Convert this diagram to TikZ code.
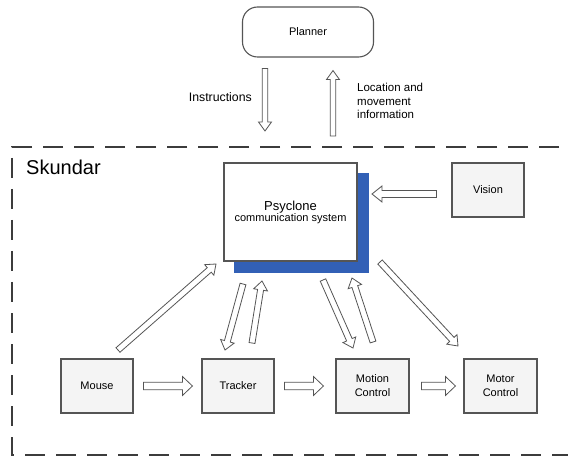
\documentclass[tikz,border=0pt]{standalone}
\usepackage{fontspec}
\setmainfont{Liberation Sans}
\usetikzlibrary{calc,backgrounds}
\definecolor{edgegray}{RGB}{85,85,85}
\definecolor{boxfill}{RGB}{244,244,244}
\definecolor{shadowblue}{RGB}{50,96,182}
\definecolor{dashgray}{RGB}{60,60,60}
\tikzset{
  module/.style={draw=edgegray, line width=1.1pt, fill=boxfill, minimum width=72pt, minimum height=54pt,
    inner sep=0pt, align=center, font=\fontsize{11}{14}\selectfont},
  harrow/.style={draw=edgegray, fill=white, line width=0.8pt, line join=miter},
  lbl/.style={font=\fontsize{11.5}{13.5}\selectfont, inner sep=0pt},
}
\newcommand{\hollowarrow}[5]{%
  \coordinate (hh) at ($(#2)!#5!(#1)$);
  \draw[harrow] ($(#1)!#3!90:(#2)$) -- ($(hh)!#3!90:(#2)$) -- ($(hh)!#4!90:(#2)$) -- (#2)
    -- ($(hh)!#4!-90:(#2)$) -- ($(hh)!#3!-90:(#2)$) -- ($(#1)!#3!-90:(#2)$) -- cycle;}
\begin{document}
\begin{tikzpicture}[x=1pt,y=-1pt]
\useasboundingbox (0,0) rectangle (568,457);
% system boundary
\draw[dashgray, line width=1.4pt, dash pattern=on 20pt off 11pt] (590,147) -- (12,147) -- (12,455) -- (590,455);
\node[font=\fontsize{20}{24}\selectfont, anchor=base west, inner sep=0pt] (skundar) at (26,175) {Skundar};
% planner
\node[draw=edgegray, line width=1.1pt, fill=white, rounded corners=15pt, minimum width=131pt, minimum height=50pt,
  font=\fontsize{11}{14}\selectfont] (planner) at (308,32) {Planner};
% psyclone
\node[draw=edgegray, line width=1.1pt, fill=white, minimum width=133pt, minimum height=98pt, align=center,
  inner sep=0pt] (psy) at (290.5,212) {{\fontsize{13}{15}\selectfont Psyclone}\\[-1pt]{\fontsize{11}{13}\selectfont communication system}};
\begin{scope}[on background layer]
  \fill[white] (0,0) rectangle (568,457);
  \fill[shadowblue] ([shift={(11,11)}]psy.south west) rectangle ([shift={(11,11)}]psy.north east);
\end{scope}
% modules
\node[module] (vision) at (488,190) {Vision};
\node[module] (mouse) at (97,386) {Mouse};
\node[module] (tracker) at (238,386) {Tracker};
\node[module, minimum width=73pt] (motion) at (372.5,386) {Motion\\Control};
\node[module, minimum width=73pt] (motor) at (500.5,386) {Motor\\Control};
% labels
\node[lbl, anchor=east, font=\fontsize{12.3}{14}\selectfont] (instr) at (252,97) {Instructions};
\node[lbl, anchor=north west, align=left] (locinfo) at (357,83) {Location and\\movement\\information};
% arrow end points
\coordinate (pdown1) at ([xshift=-43pt, yshift=-11pt]planner.south);
\coordinate (pdown2) at (265,131);
\coordinate (pup1) at (333,136);
\coordinate (pup2) at ([xshift=25pt, yshift=-13pt]planner.south);
\coordinate (vis1) at ([xshift=-15pt, yshift=-4pt]vision.west);
\coordinate (vis2) at (372,194);
\coordinate (m1) at ([xshift=10pt]mouse.east);
\coordinate (t0) at ([xshift=-9pt]tracker.west);
\coordinate (t1) at ([xshift=10pt]tracker.east);
\coordinate (mc0) at ([xshift=-12pt]motion.west);
\coordinate (mc1) at ([xshift=12pt]motion.east);
\coordinate (mt0) at ([xshift=-8pt]motor.west);
\coordinate (ma) at (118,350);
\coordinate (mb) at (216,264);
\coordinate (ta) at (243,284);
\coordinate (tb) at (225,350);
\coordinate (tc) at (252,343);
\coordinate (td) at (262,281);
\coordinate (ca) at (323,280);
\coordinate (cb) at (353,348);
\coordinate (cc) at (373,342);
\coordinate (cd) at (352,278);
\coordinate (ra) at (380,262);
\coordinate (rb) at (458,346);
% arrows
\hollowarrow{pdown1}{pdown2}{2.8pt}{6.5pt}{9pt}
\hollowarrow{pup1}{pup2}{2.8pt}{6.5pt}{9pt}
\hollowarrow{vis1}{vis2}{3.5pt}{8pt}{10pt}
\hollowarrow{m1}{t0}{3.8pt}{9.5pt}{10pt}
\hollowarrow{t1}{mc0}{3.8pt}{9.5pt}{10pt}
\hollowarrow{mc1}{mt0}{3.8pt}{9.5pt}{10pt}
\hollowarrow{ma}{mb}{3pt}{7pt}{9pt}
\hollowarrow{ta}{tb}{3pt}{7pt}{9pt}
\hollowarrow{tc}{td}{3pt}{7pt}{9pt}
\hollowarrow{ca}{cb}{3pt}{7pt}{9pt}
\hollowarrow{cc}{cd}{3pt}{7pt}{9pt}
\hollowarrow{ra}{rb}{3pt}{7pt}{9pt}
\end{tikzpicture}
\end{document}
